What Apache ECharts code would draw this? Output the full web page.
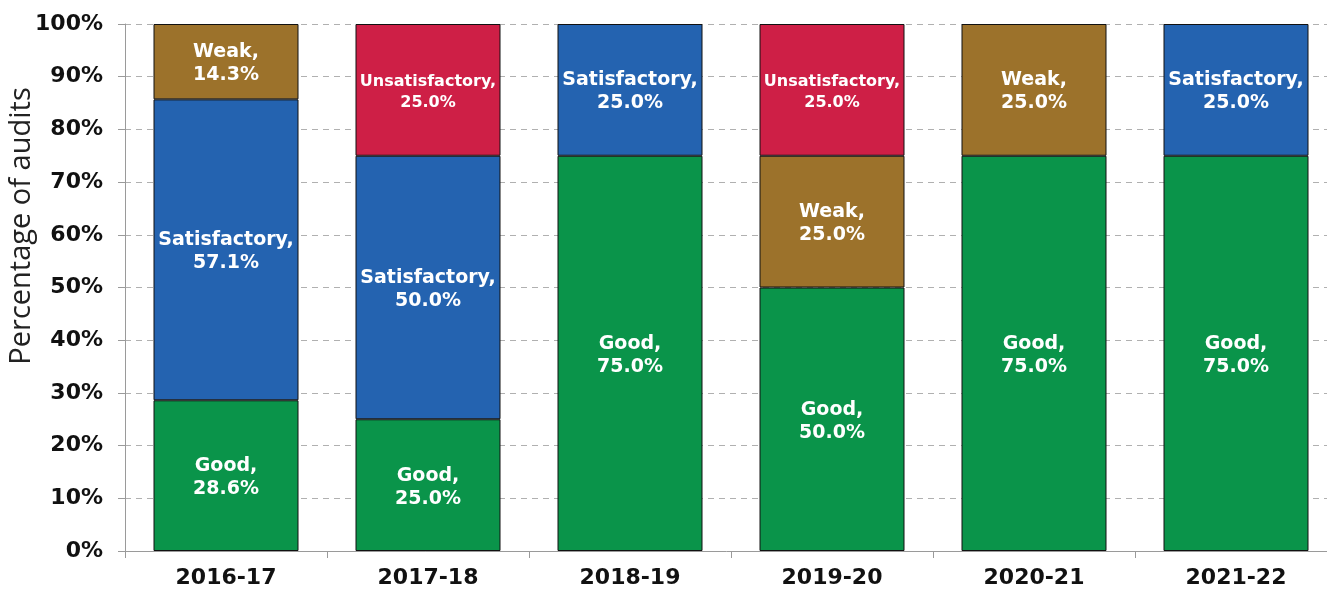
<!DOCTYPE html>
<html>
<head>
<meta charset="utf-8">
<script src="https://cdn.jsdelivr.net/npm/echarts@6/dist/echarts.min.js"></script>
<style>html,body{margin:0;padding:0;background:#fff}#c{width:1327px;height:590px}</style>
</head>
<body>
<div id="c"></div>
<script>
const categories = ['2016-17', '2017-18', '2018-19', '2019-20', '2020-21', '2021-22'];
const good = [28.6, 25.0, 75.0, 50.0, 75.0, 75.0];
const satisfactory = [57.1, 50.0, 25.0, null, null, 25.0];
const weak = [14.3, null, null, 25.0, 25.0, null];
const unsatisfactory = [null, 25.0, null, 25.0, null, null];
const yTicks = [0, 10, 20, 30, 40, 50, 60, 70, 80, 90, 100];
const yAxisTitle = 'Percentage of audits';

const FONT = 'Verdana, "DejaVu Sans", sans-serif';
function mk(name, data, color, fs, lh) {
  return {
    name: name, type: 'bar', stack: 'all', data: data, barWidth: 145,
    itemStyle: { color: color, borderColor: '#111', borderWidth: 1 },
    label: {
      show: true, position: 'inside', color: '#fff', fontFamily: FONT,
      fontWeight: 'bold', fontSize: fs, lineHeight: lh, align: 'center', offset: [0, 2],
      formatter: p => p.seriesName + ',\n' + Number(p.value).toFixed(1) + '%'
    }
  };
}
const chart = echarts.init(document.getElementById('c'));
chart.setOption({
  animation: false,
  grid: { left: 125, right: -10, top: 24, bottom: 39, containLabel: false, outerBoundsMode: 'none' },
  xAxis: {
    type: 'category', data: categories,
    axisLine: { lineStyle: { color: '#9a9a9a', width: 1 } },
    axisTick: { show: true, length: 7, lineStyle: { color: '#9a9a9a' } },
    axisLabel: { color: '#111', fontFamily: FONT, fontWeight: 'bold', fontSize: 22, margin: 16 }
  },
  yAxis: {
    type: 'value', min: 0, max: 100, interval: 10,
    axisLine: { show: true, lineStyle: { color: '#9a9a9a', width: 1 } },
    axisTick: { show: true, length: 7, lineStyle: { color: '#9a9a9a' } },
    splitLine: { show: true, lineStyle: { color: '#b0b0b0', type: [6, 5], width: 1 } },
    axisLabel: {
      color: '#111', fontFamily: FONT, fontWeight: 'bold', fontSize: 22, margin: 22,
      formatter: v => yTicks.indexOf(v) >= 0 ? v + '%' : ''
    }
  },
  graphic: [{
    type: 'text', x: 22, y: 226, rotation: Math.PI / 2,
    style: {
      text: yAxisTitle, fill: '#222', font: '29px "Open Sans", "Noto Sans", sans-serif',
      textAlign: 'center', textVerticalAlign: 'middle'
    }
  }],
  series: [
    mk('Good', good, '#0A944A', 19, 23),
    mk('Satisfactory', satisfactory, '#2463B0', 19, 23),
    mk('Weak', weak, '#9C722B', 19, 23),
    mk('Unsatisfactory', unsatisfactory, '#CE1F46', 16, 21)
  ]
});
</script>
</body>
</html>
